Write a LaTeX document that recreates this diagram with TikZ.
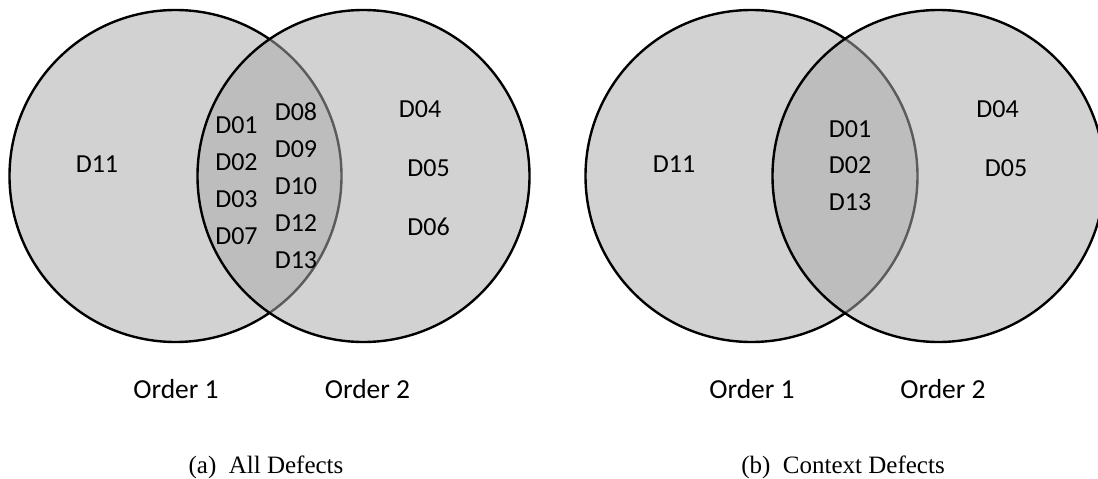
\documentclass[tikz,border=0pt]{standalone}
\usepackage{fontspec}
\setmainfont{Liberation Serif}
\newfontfamily\labelfont{Carlito}
\definecolor{setfill}{gray}{0.824}
\definecolor{setfillB}{gray}{0.67}
\begin{document}
\begin{tikzpicture}[x=1pt,y=-1pt,
  setA/.style={fill=setfill, draw=black, line width=2.4pt},
  setB/.style={fill=setfillB, fill opacity=0.533, draw=black, line width=2.4pt},
  defect/.style={anchor=base, inner sep=0pt, font=\labelfont\fontsize{26}{30}\selectfont},
  setname/.style={defect, font=\labelfont\fontsize{27.5}{32}\selectfont},
  subcap/.style={anchor=base, inner sep=0pt, font=\fontsize{25}{29}\selectfont}]
\clip (0,0) rectangle (1098,479);

% ---- (a) all defects ----
\draw[setA] (175.5,176) circle[radius=166pt];
\draw[setB] (363.5,176) circle[radius=166pt];
\node[defect] (a11) at (97,172) {D11};
\node[defect] (a01) at (236.5,133) {D01};
\node[defect] (a02) at (236.5,170) {D02};
\node[defect] (a03) at (236.5,207.5) {D03};
\node[defect] (a07) at (236.5,244.5) {D07};
\node[defect] (a08) at (296,120) {D08};
\node[defect] (a09) at (296,157) {D09};
\node[defect] (a10) at (296,194.5) {D10};
\node[defect] (a12) at (296,231.5) {D12};
\node[defect] (a13) at (296,268) {D13};
\node[defect] (a04) at (420,117) {D04};
\node[defect] (a05) at (428.5,176) {D05};
\node[defect] (a06) at (428.5,235.5) {D06};
\node[setname] (aord1) at (176,398) {Order 1};
\node[setname] (aord2) at (367.5,398) {Order 2};
\node[subcap] (capa) at (266,473) {(a)~~All Defects};

% ---- (b) context defects ----
\draw[setA] (751.5,176) circle[radius=166pt];
\draw[setB] (938.5,176) circle[radius=166pt];
\node[defect] (b11) at (674,172) {D11};
\node[defect] (b01) at (850,137) {D01};
\node[defect] (b02) at (850,173.7) {D02};
\node[defect] (b13) at (850,210.5) {D13};
\node[defect] (b04) at (997.5,117) {D04};
\node[defect] (b05) at (1006,176) {D05};
\node[setname] (bord1) at (752,398) {Order 1};
\node[setname] (bord2) at (943,398) {Order 2};
\node[subcap] (capb) at (843,473) {(b)~~Context Defects};
\end{tikzpicture}
\end{document}
